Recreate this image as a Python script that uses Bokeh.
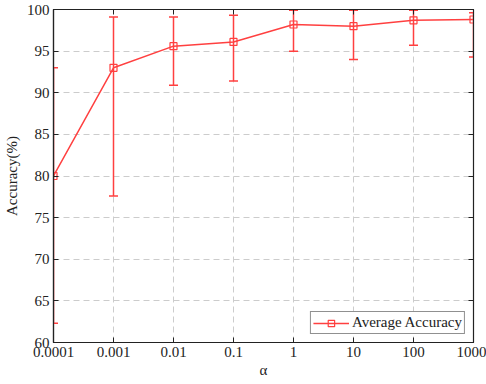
from bokeh.plotting import figure
from bokeh.models import (ColumnDataSource, Whisker, TeeHead, FixedTicker, LinearAxis, LogAxis,
                          Legend, LegendItem, Range1d)
from bokeh.embed import file_html
from bokeh.resources import INLINE

alpha = [0.0001, 0.001, 0.01, 0.1, 1, 10, 100, 1000]
alpha_labels = ["0.0001", "0.001", "0.01", "0.1", "1", "10", "100", "1000"]
accuracy = [80.0, 93.0, 95.6, 96.1, 98.2, 98.0, 98.7, 98.8]
upper = [93.0, 99.1, 99.1, 99.3, 99.9, 99.9, 99.9, 99.6]
lower = [62.3, 77.6, 90.9, 91.4, 95.0, 94.0, 95.7, 94.3]
y_ticks = [60, 65, 70, 75, 80, 85, 90, 95, 100]

FONT = "'Liberation Serif', 'Times New Roman', serif"
RED = "#ff4040"

src = ColumnDataSource(dict(x=alpha, y=accuracy, up=upper, lo=lower))

p = figure(width=486, height=384, x_axis_type="log", output_backend="svg",
           toolbar_location=None, x_range=Range1d(1e-4, 1e3), y_range=Range1d(60, 100),
           min_border_left=51, min_border_right=13, min_border_top=9, min_border_bottom=42)
p.background_fill_color = "white"
p.border_fill_color = "white"
p.outline_line_color = "#222222"
p.outline_line_width = 1.2

for ax in (p.xaxis[0], p.yaxis[0]):
    ax.major_label_text_font = FONT
    ax.major_label_text_font_size = "15px"
    ax.major_label_text_color = "#222222"
    ax.axis_label_text_font = FONT
    ax.axis_label_text_font_size = "15px"
    ax.axis_label_text_font_style = "normal"
    ax.axis_label_text_color = "#222222"
    ax.axis_line_color = "#222222"
    ax.axis_line_width = 1.2
    ax.major_tick_in = 5
    ax.major_tick_out = 0
    ax.major_tick_line_color = "#222222"
    ax.minor_tick_line_color = None

p.xaxis[0].ticker = FixedTicker(ticks=alpha)
p.xaxis[0].major_label_overrides = {a: l for a, l in zip(alpha, alpha_labels)}
p.xaxis[0].axis_label = "α"
p.xaxis[0].major_label_standoff = 4
p.xaxis[0].axis_label_standoff = 2
p.yaxis[0].ticker = FixedTicker(ticks=y_ticks)
p.yaxis[0].axis_label = "Accuracy(%)"
p.yaxis[0].major_label_standoff = 4
p.yaxis[0].axis_label_standoff = 4

top = LogAxis(ticker=FixedTicker(ticks=alpha), major_label_text_alpha=0,
              major_label_text_font_size="1px", major_label_standoff=0,
              major_tick_in=5, major_tick_out=0, minor_tick_line_color=None,
              axis_line_color="#222222", major_tick_line_color="#222222")
right = LinearAxis(ticker=FixedTicker(ticks=y_ticks), major_label_text_alpha=0,
                   major_label_text_font_size="1px", major_label_standoff=0,
                   major_tick_in=5, major_tick_out=0, minor_tick_line_color=None,
                   axis_line_color="#222222", major_tick_line_color="#222222")
p.add_layout(top, "above")
p.add_layout(right, "right")

p.xgrid.ticker = FixedTicker(ticks=alpha)
p.ygrid.ticker = FixedTicker(ticks=y_ticks)
for g in (p.xgrid[0], p.ygrid[0]):
    g.grid_line_color = "#cccccc"
    g.grid_line_dash = "6 4"
    g.grid_line_width = 1

w = Whisker(source=src, base="x", upper="up", lower="lo", dimension="height",
            line_color=RED, line_width=1.5,
            upper_head=TeeHead(size=9, line_color=RED, line_width=1.5),
            lower_head=TeeHead(size=9, line_color=RED, line_width=1.5))
p.add_layout(w)

ln = p.line("x", "y", source=src, line_color=RED, line_width=1.5)
mk = p.scatter("x", "y", source=src, marker="square", size=7, fill_color=None,
               line_color=RED, line_width=1.2)

legend = Legend(items=[LegendItem(label="Average Accuracy", renderers=[ln, mk])],
                location="bottom_right", label_text_font=FONT, label_text_font_size="15px",
                label_text_color="#222222", border_line_color="#222222", border_line_width=1,
                padding=2, margin=8, spacing=0, glyph_width=36, glyph_height=16,
                label_standoff=3, label_height=16)
p.add_layout(legend, "center")

open("out.html", "w").write(file_html(p, INLINE))
